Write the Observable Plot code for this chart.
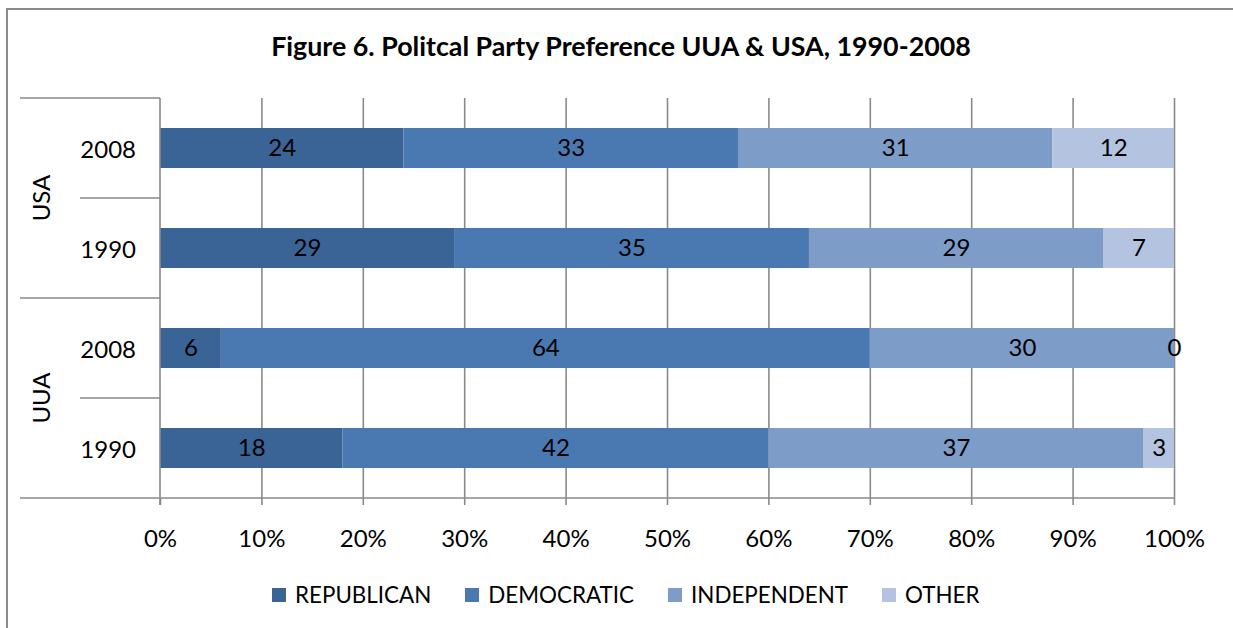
<!DOCTYPE html>
<html>
<head>
<meta charset="utf-8">
<script src="https://cdn.jsdelivr.net/npm/d3@7"></script>
<script src="https://cdn.jsdelivr.net/npm/@observablehq/plot@0.6"></script>
<style>
  html, body { margin: 0; padding: 0; background: #fff; }
  #wrap { position: relative; width: 1233px; height: 628px; overflow: hidden; font-family: Lato, "Open Sans", sans-serif; }
  #border { position: absolute; left: 6px; top: 8px; width: 1300px; height: 700px; border-left: 2px solid #8a8a8a; border-top: 2px solid #8a8a8a; }
  #title { position: absolute; left: 9px; width: 1224px; top: 30px; text-align: center; font-weight: bold; font-size: 26.8px; color: #000; }
  #chart { position: absolute; left: 0; top: 0; }
  #legend { position: absolute; left: 272px; top: 581px; display: flex; align-items: center; font-size: 22.4px; color: #000; }
  .item { display: flex; align-items: center; margin-right: 34px; }
  .sw { width: 14px; height: 14px; margin-right: 9px; }
</style>
</head>
<body>
<div id="wrap">
  <div id="border"></div>
  <div id="chart"></div>
  <div id="title">Figure 6. Politcal Party Preference UUA &amp; USA, 1990-2008</div>
  <div id="legend"></div>
</div>
<script>
// ---- data ----
const groups = ["USA", "USA", "UUA", "UUA"];
const years = ["2008", "1990", "2008", "1990"];
const parties = ["REPUBLICAN", "DEMOCRATIC", "INDEPENDENT", "OTHER"];
const republican = [24, 29, 6, 18];
const democratic = [33, 35, 64, 42];
const independent = [31, 29, 30, 37];
const other = [12, 7, 0, 3];
const colors = ["#3b6496", "#4a79b2", "#7e9cc8", "#b4c3df"];
const xTicks = [0, 0.1, 0.2, 0.3, 0.4, 0.5, 0.6, 0.7, 0.8, 0.9, 1.0];

const series = [republican, democratic, independent, other];
const rowKeys = groups.map((g, i) => g + " " + years[i]);
const data = [];
rowKeys.forEach((k, i) => {
  parties.forEach((p, j) => {
    data.push({row: k, group: groups[i], year: years[i], party: p, value: series[j][i]});
  });
});

const W = 1233, H = 628;
const plot = Plot.plot({
  width: W,
  height: H,
  marginLeft: 160,
  marginRight: 59,
  marginTop: 98,
  marginBottom: 130,
  style: {fontFamily: "Lato, 'Open Sans', sans-serif", fontSize: "24px", color: "#000", background: "transparent"},
  x: {domain: [0, 1], axis: null},
  y: {domain: rowKeys, paddingInner: 0.6, paddingOuter: 0.3, axis: null},
  color: {domain: parties, range: colors},
  marks: [
    Plot.ruleX(xTicks.slice(1), {stroke: "#8a8a8a", strokeWidth: 1.6}),
    Plot.barX(data, Plot.stackX({x: d => d.value / 100, y: "row", fill: "party", order: parties})),
    Plot.text(data, Plot.stackX({x: d => d.value / 100, y: "row", z: "party", order: parties, text: d => String(d.value), fill: "#000", fontSize: 24})),
    Plot.axisX(xTicks, {anchor: "bottom", tickFormat: d3.format(".0%"), tickSize: 7, tickPadding: 24, stroke: "#8a8a8a", strokeWidth: 1.6, fill: "#000", fontSize: 24})
  ]
});
document.getElementById("chart").appendChild(plot);

// ---- multi-level category axis on the left, using the plot's scales ----
const ys = plot.scale("y");
const xs = plot.scale("x");
const svg = d3.select(plot);
const step = ys.step !== undefined ? ys.step : ys.bandwidth / 0.4;
const x0 = xs.apply(0), x1 = xs.apply(1);
const bandStart = k => ys.apply(k) - (step - ys.bandwidth) / 2;
const yTop = bandStart(rowKeys[0]);
const yBottom = bandStart(rowKeys[rowKeys.length - 1]) + step;
const g = svg.append("g").attr("stroke", "#8a8a8a").attr("stroke-width", 1.6);
g.append("line").attr("x1", x0).attr("x2", x0).attr("y1", yTop).attr("y2", yBottom + 7);
g.append("line").attr("x1", 20).attr("x2", x1).attr("y1", yBottom).attr("y2", yBottom);
rowKeys.forEach((k, i) => {
  const yb = bandStart(k);
  const isGroupStart = i === 0 || groups[i] !== groups[i - 1];
  g.append("line").attr("x1", isGroupStart ? 20 : 80).attr("x2", x0).attr("y1", yb).attr("y2", yb);
});
const tg = svg.append("g").attr("fill", "#000").attr("font-size", 24);
rowKeys.forEach((k, i) => {
  tg.append("text").attr("x", x0 - 24).attr("y", ys.apply(k) + ys.bandwidth / 2)
    .attr("text-anchor", "end").attr("dominant-baseline", "central").text(years[i]);
});
const uniq = Array.from(new Set(groups));
uniq.forEach(gr => {
  const ks = rowKeys.filter((k, i) => groups[i] === gr);
  const yc = (bandStart(ks[0]) + bandStart(ks[ks.length - 1]) + step) / 2;
  tg.append("text").attr("transform", `translate(40,${yc}) rotate(-90)`)
    .attr("text-anchor", "middle").attr("dominant-baseline", "central").text(gr);
});

// ---- legend ----
const leg = document.getElementById("legend");
parties.forEach((p, j) => {
  const it = document.createElement("div");
  it.className = "item";
  it.innerHTML = `<div class="sw" style="background:${colors[j]}"></div><span>${p}</span>`;
  leg.appendChild(it);
});
</script>
</body>
</html>
